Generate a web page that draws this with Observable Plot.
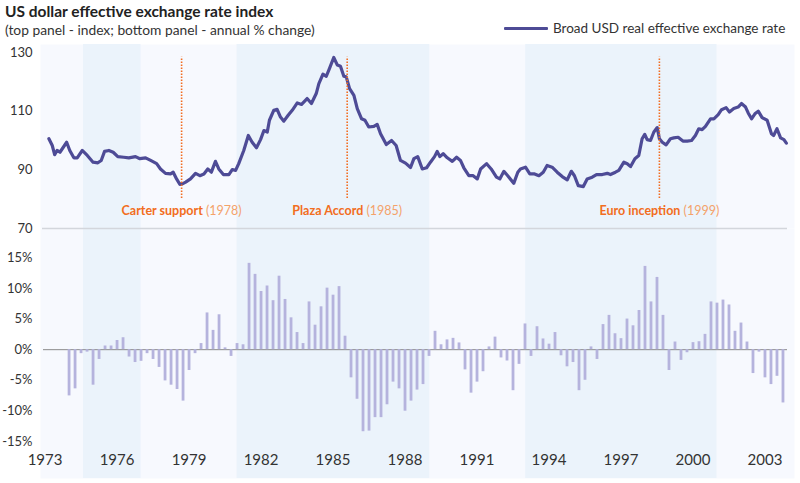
<!DOCTYPE html>
<html>
<head>
<meta charset="utf-8">
<script src="https://cdn.jsdelivr.net/npm/d3@7"></script>
<script src="https://cdn.jsdelivr.net/npm/@observablehq/plot@0.6"></script>
<style>
  html, body { margin: 0; padding: 0; background: #fff; }
  #chart { position: relative; width: 800px; height: 483px; background: #fff; font-family: Lato, "Noto Sans", sans-serif; overflow: hidden; }
  #title { position: absolute; left: 5px; top: 2px; font-size: 15.5px; font-weight: 700; color: #222; white-space: nowrap; }
  #subtitle { position: absolute; left: 5px; top: 20.5px; font-size: 13.8px; color: #333; white-space: nowrap; }
  #legend { position: absolute; left: 504px; top: 20px; font-size: 13.5px; color: #333; white-space: nowrap; display: flex; align-items: center; }
  #legend .sw { width: 44px; height: 3px; background: #4e4b96; margin-right: 5px; border-radius: 1px; }
  #bottom { position: absolute; left: 0; top: 228px; }
  #top { position: absolute; left: 0; top: 44px; }
</style>
</head>
<body>
<div id="chart">
  <div id="title">US dollar effective exchange rate index</div>
  <div id="subtitle">(top panel - index; bottom panel - annual % change)</div>
  <div id="legend"><div class="sw"></div><span>Broad USD real effective exchange rate</span></div>
  <div id="bottom"></div>
  <div id="top"></div>
</div>
<script>
// ---------------- data ----------------
const lineYears = [
  1973.16,1973.3,1973.4,1973.5,1973.62,1973.76,1973.9,1974.03,1974.2,1974.34,1974.55,1974.76,
  1975.0,1975.2,1975.34,1975.48,1975.66,1975.84,1976.03,1976.28,1976.49,1976.77,1976.95,
  1977.19,1977.4,1977.65,1977.81,1978.02,1978.23,1978.34,1978.48,1978.62,1978.72,1978.86,
  1979.06,1979.27,1979.45,1979.62,1979.78,1979.93,1980.1,1980.24,1980.43,1980.66,1980.8,1980.94,
  1981.07,1981.28,1981.47,1981.63,1981.81,1981.98,1982.12,1982.26,1982.35,1982.53,1982.67,1982.81,1982.95,
  1983.13,1983.3,1983.51,1983.69,1983.92,1984.1,1984.3,1984.41,1984.58,1984.72,1984.85,
  1985.03,1985.18,1985.31,1985.45,1985.55,1985.69,1985.87,1986.01,1986.19,1986.33,1986.49,1986.7,1986.84,1986.98,
  1987.22,1987.44,1987.63,1987.81,1988.02,1988.23,1988.37,1988.53,1988.72,1988.9,
  1989.06,1989.23,1989.34,1989.45,1989.59,1989.76,1989.97,1990.15,1990.31,1990.45,1990.66,1990.84,
  1991.01,1991.15,1991.4,1991.59,1991.81,1991.95,1992.12,1992.28,1992.53,1992.7,1992.81,
  1993.02,1993.2,1993.4,1993.58,1993.76,1993.92,1994.13,1994.34,1994.55,1994.76,1994.93,
  1995.06,1995.22,1995.43,1995.59,1995.8,1995.98,1996.22,1996.43,1996.56,1996.77,1996.91,
  1997.12,1997.26,1997.4,1997.58,1997.74,1997.88,1997.99,1998.09,1998.23,1998.37,1998.51,1998.6,1998.72,1998.88,
  1999.06,1999.2,1999.38,1999.58,1999.76,1999.94,2000.1,2000.24,2000.38,2000.52,2000.73,2000.87,
  2001.05,2001.19,2001.38,2001.52,2001.7,2001.88,2002.02,2002.19,2002.3,2002.44,2002.58,2002.72,2002.88,
  2003.09,2003.27,2003.36,2003.5,2003.65,2003.79,2003.89
];
const lineValues = [
  100.6,98.3,95.2,96.6,96.0,97.7,99.4,96.6,94.1,94.1,96.6,94.9,
  92.6,92.4,93.2,96.3,96.6,96.0,94.5,94.3,94.1,94.5,93.8,
  94.1,93.2,92.1,90.3,88.8,88.6,89.2,86.9,85.0,85.2,85.8,
  86.9,88.8,88.0,88.6,90.3,89.2,92.9,90.3,88.4,88.4,90.1,89.8,
  92.1,96.6,101.7,99.4,97.5,100.3,103.4,102.9,106.9,110.3,110.6,108.0,106.6,
  108.6,110.3,112.8,112.3,114.3,112.6,116.0,119.4,122.6,121.9,124.5,
  128.3,125.7,125.3,121.9,121.7,117.7,115.4,110.9,107.4,106.9,104.6,104.8,105.5,102.3,
  98.6,100.0,98.3,93.2,92.3,90.8,93.8,94.5,90.3,90.7,
  92.6,94.5,96.3,94.5,95.5,94.1,92.9,94.3,93.2,90.7,88.0,88.0,
  86.9,90.3,92.1,90.3,87.5,86.9,89.5,88.0,85.4,89.2,90.3,
  90.9,88.6,88.6,88.0,89.2,91.5,90.9,89.2,87.7,86.6,89.5,
  88.0,84.6,84.3,86.9,87.5,88.4,88.4,88.8,88.4,89.2,89.8,
  92.6,92.1,91.1,93.8,94.9,100.6,102.1,100.3,100.0,102.9,104.4,100.6,99.4,98.5,
  100.6,100.9,101.1,99.8,99.8,100.0,101.7,104.0,103.7,104.8,107.4,107.4,
  108.8,110.5,111.2,109.7,110.9,111.4,112.6,111.4,109.4,107.4,109.1,110.0,107.8,
  106.9,102.3,101.7,104.0,100.9,100.3,99.1
];

// annual % change, quarterly, starting 1974 Q1
const barStartYear = 1974;
const barValues = [
  -7.55,-6.4,-0.65,-0.4,-5.8,-1.6,0.6,0.6,1.5,1.95,
  -1.2,-2.1,-1.9,-0.65,-1.6,-2.9,-5.1,-5.8,-6.5,-8.4,
  -3.4,-0.65,1.0,6.0,3.15,5.7,0.3,-1.1,1.0,0.8,
  14.1,12.3,9.5,10.4,8.0,12.0,8.2,5.2,2.8,1.0,
  7.8,4.0,7.0,10.05,8.9,10.3,2.2,-4.6,-8.1,-13.4,
  -13.3,-11.1,-11.1,-9.0,-5.3,-6.4,
  -10.05,-8.4,-6.6,-5.7,-1.1,3.0,0.8,1.6,1.85,1.1,
  -3.3,-7.1,-5.3,-3.6,0.45,2.05,-1.35,-1.85,-6.7,-2.4,
  4.2,-1.1,3.75,1.75,0.9,2.8,-1.0,-2.8,-2.1,-6.7,
  -5.0,0.45,-1.6,4.1,5.6,2.6,1.8,5.0,3.9,6.4,
  13.6,7.8,11.8,5.6,-3.4,1.25,-1.75,-0.5,1.15,1.3,
  2.5,7.8,7.6,8.1,7.3,3.0,4.35,1.25,-3.9,-0.4,
  -4.6,-5.7,-4.35,-8.7
];

// presidential-term shading (darker bands)
const darkStarts = [1974.6, 1981.0, 1993.03];
const darkEnds   = [1977.0, 1989.03, 2001.0];

const eventNames = ["Carter support", "Plaza Accord", "Euro inception"];
const eventYearLabels = ["(1978)", "(1985)", "(1999)"];
const eventX = [1978.69, 1985.59, 1998.6];

const xTicks = [1973, 1976, 1979, 1982, 1985, 1988, 1991, 1994, 1997, 2000, 2003];
const yTopTicks = [70, 90, 110, 130];
const yBottomTicks = [-15, -10, -5, 0, 5, 10, 15];

// ---------------- build ----------------
const lineData = lineYears.map((x, i) => ({x, y: lineValues[i]}));
const barData = barValues.map((v, i) => ({x: barStartYear + i / 4, y: v}));
const bands = darkStarts.map((s, i) => ({x1: s, x2: darkEnds[i]}));
const events = eventNames.map((n, i) => ({name: n, year: eventYearLabels[i], x: eventX[i]}));

const xDomain = [1972.81, 2004.23];
const font = 'Lato, "Noto Sans", sans-serif';
const lightBg = "#f7f9fe";
const darkBg = "#ebf3fb";
const lineColor = "#4e4b96";
const barColor = "#b5b3dd";
const orange = "#f26d21";
const orangeLight = "#f4a26a";

const topPlot = Plot.plot({
  width: 800, height: 190,
  marginLeft: 40, marginRight: 6, marginTop: 8, marginBottom: 6,
  style: {background: "transparent", fontFamily: font, fontSize: "13px", color: "#333", overflow: "visible"},
  x: {domain: xDomain, axis: null},
  y: {domain: [70, 130], ticks: yTopTicks, tickSize: 0, tickPadding: 8, label: null},
  marks: [
    Plot.frame({fill: lightBg, stroke: null, insetTop: -8}),
    Plot.rect(bands, {x1: "x1", x2: "x2", fill: darkBg, insetTop: -8}),
    Plot.ruleY([70], {stroke: "#d3d6dc", strokeWidth: 1.5, insetLeft: 2, insetRight: 7}),
    Plot.line(lineData, {x: "x", y: "y", stroke: lineColor, strokeWidth: 3.2, strokeLinejoin: "round", strokeLinecap: "round"}),
    Plot.ruleX(events, {x: "x", y1: 80.2, y2: 128.4, stroke: orange, strokeWidth: 1.6, strokeDasharray: "1.5,1.5"}),
    Plot.text(events, {x: "x", y: 76, text: d => d.name + " " + d.year, fill: orange, fontSize: 12.5, textAnchor: "middle"})
  ]
});

// mixed styling for the event labels
d3.select(topPlot).selectAll('g[aria-label="text"] text').each(function(_, i) {
  const e = events[i];
  const t = d3.select(this);
  t.text(null);
  t.append("tspan").attr("font-weight", "700").attr("fill", orange).text(e.name);
  t.append("tspan").attr("font-weight", "400").attr("fill", orangeLight).text(" " + e.year);
});

const bottomPlot = Plot.plot({
  width: 800, height: 250,
  marginLeft: 40, marginRight: 6, marginTop: 0, marginBottom: 30,
  style: {background: "transparent", fontFamily: font, fontSize: "13px", color: "#333", overflow: "visible"},
  x: {domain: xDomain, ticks: xTicks, tickFormat: d => String(d), tickSize: 0, tickPadding: 6, label: null},
  y: {domain: [-16.14, 19.79], ticks: yBottomTicks, tickFormat: d => d + "%", tickSize: 0, tickPadding: 8, label: null},
  marks: [
    Plot.frame({fill: lightBg, stroke: null, insetBottom: -30}),
    Plot.rect(bands, {x1: "x1", x2: "x2", fill: darkBg, insetBottom: -30}),
    Plot.ruleY([0], {stroke: "#8a8a8a", strokeWidth: 1, insetLeft: 3, insetRight: 7}),
    Plot.ruleX(barData, {x: "x", y1: 0, y2: "y", stroke: barColor, strokeWidth: 2.8})
  ]
});
// bring the x-axis above the background bands and enlarge its labels
d3.select(bottomPlot).selectAll("g[aria-label]").filter(function() {
  return this.getAttribute("aria-label").startsWith("x-axis");
}).each(function() {
  d3.select(this).attr("font-size", "15px").selectAll("text").attr("font-size", "15px");
  d3.select(this).raise();
});

document.getElementById("top").appendChild(topPlot);
document.getElementById("bottom").appendChild(bottomPlot);
</script>
</body>
</html>
